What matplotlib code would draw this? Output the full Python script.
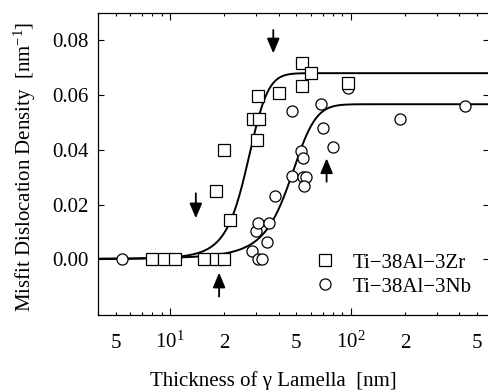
import numpy as np
import matplotlib
matplotlib.use('Agg')
import matplotlib.pyplot as plt
from matplotlib.ticker import LogLocator, NullFormatter, FixedLocator

plt.rcParams['font.family'] = ['Liberation Serif', 'DejaVu Serif']
plt.rcParams['mathtext.default'] = 'regular'
plt.rcParams['font.size'] = 15

# Ti-38Al-3Zr (squares)
zr_thickness = [8.0, 9.3, 10.7, 15.4, 18.0, 19.9, 21.5, 17.9, 20.0, 30.2,
                28.9, 31.2, 30.8, 40.3, 53.6, 60.3, 53.6, 97.0]
zr_density = [0, 0, 0, 0, 0, 0, 0.0144, 0.0249, 0.0398, 0.0435,
              0.0510, 0.0510, 0.0595, 0.0607, 0.0716, 0.0677, 0.0632, 0.0641]

# Ti-38Al-3Nb (circles)
nb_thickness = [5.4, 28.3, 30.8, 32.2, 29.9, 30.8, 35.4, 34.6, 38.1, 47.6,
                54.7, 56.6, 55.4, 53.1, 54.7, 47.6, 68.5, 70.5, 80.1, 97.0,
                187.5, 429.0]
nb_density = [0, 0.0030, 0, 0, 0.0105, 0.0134, 0.0134, 0.0063, 0.0231, 0.0305,
              0.0301, 0.0301, 0.0268, 0.0396, 0.0368, 0.0541, 0.0565, 0.0479,
              0.0410, 0.0623, 0.0512, 0.0559]

# Boltzmann fit parameters: plateau, centre, width
zr_fit = (0.0678, 26.6, 3.7)
nb_fit = (0.0565, 45.8, 8.0)

# arrows: x, tail y, tip y
arrow_x = [37.3, 13.9, 73.6, 18.7]
arrow_tail = [0.0835, 0.0241, 0.0283, -0.0135]
arrow_tip = [0.0750, 0.0150, 0.0368, -0.0048]

xtick_pos = [5, 10, 20, 50, 100, 200, 500]
xtick_lab = ['5', '$10^{1}$', '2', '5', '$10^{2}$', '2', '5']


def boltzmann(x, a, x0, dx):
    return a / (1 + np.exp(-(x - x0) / dx))


fig = plt.figure(figsize=(4.89, 3.90), dpi=100)
ax = fig.add_axes([0.1998, 0.1923, 0.8002, 0.7751])

xs = np.logspace(np.log10(3.9), np.log10(600), 600)
ax.plot(xs, boltzmann(xs, *zr_fit), color='k', lw=1.4, zorder=2)
ax.plot(xs, boltzmann(xs, *nb_fit), color='k', lw=1.4, zorder=2)

ax.plot(nb_thickness, nb_density, 'o', ms=8, mfc='white', mec='k', mew=0.9,
        ls='none', zorder=3, label='Ti\u221238Al\u22123Nb')
ax.plot(zr_thickness, zr_density, 's', ms=8.4, mfc='white', mec='k', mew=0.9,
        ls='none', zorder=4, label='Ti\u221238Al\u22123Zr')

for x, y0, y1 in zip(arrow_x, arrow_tail, arrow_tip):
    ax.annotate('', xy=(x, y1), xytext=(x, y0),
                arrowprops=dict(arrowstyle='-|>,head_length=0.9,head_width=0.38',
                                color='k', lw=1.3, shrinkA=0, shrinkB=0,
                                mutation_scale=10))

ax.set_xscale('log')
ax.set_xlim(3.98, 583)
ax.set_ylim(-0.0202, 0.0898)
ax.set_yticks([0.0, 0.02, 0.04, 0.06, 0.08])
ax.set_yticklabels(['0.00', '0.02', '0.04', '0.06', '0.08'])
ax.xaxis.set_major_locator(FixedLocator([10, 100]))
ax.xaxis.set_minor_locator(LogLocator(base=10, subs=np.arange(2, 10)))
ax.xaxis.set_major_formatter(NullFormatter())
ax.xaxis.set_minor_formatter(NullFormatter())

ax.tick_params(which='both', direction='in', top=True, right=True, width=0.8)
ax.tick_params(axis='x', which='major', length=5)
ax.tick_params(axis='x', which='minor', length=2.5)
ax.tick_params(axis='y', which='major', length=4, pad=6.5)
for s in ax.spines.values():
    s.set_linewidth(0.9)

for x, lab in zip(xtick_pos, xtick_lab):
    ax.text(x, -0.109, lab, transform=ax.get_xaxis_transform(),
            ha='center', va='baseline')

ax.set_xlabel('Thickness of \u03b3 Lamella  [nm]')
ax.xaxis.set_label_coords(0.45, -0.185)
ax.set_ylabel('Misfit Dislocation Density  [nm$^{\u22121}$]')
ax.yaxis.set_label_coords(-0.153, 0.49)

handles, labels = ax.get_legend_handles_labels()
ax.legend(handles[::-1], labels[::-1], loc='upper left',
          bbox_to_anchor=(0.553, 0.205), frameon=False, borderpad=0,
          borderaxespad=0, handlelength=1, handletextpad=0.85,
          labelspacing=0.22)

fig.savefig('out.png', dpi=100)
